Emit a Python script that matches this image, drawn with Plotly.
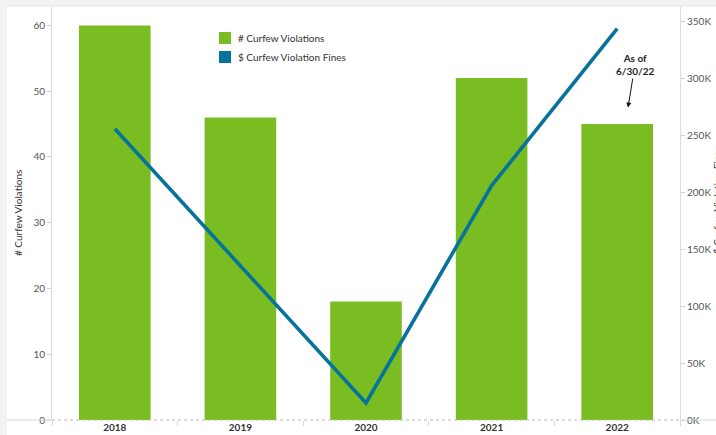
import plotly.graph_objects as go

# ---- data ----
years = ["2018", "2019", "2020", "2021", "2022"]
violations = [60, 46, 18, 52, 45]
fines = [256000, 135000, 15000, 206000, 344000]
series_names = ["# Curfew Violations", "$ Curfew Violation Fines"]
left_ticks = [0, 10, 20, 30, 40, 50, 60]
right_ticks = [0, 50000, 100000, 150000, 200000, 250000, 300000, 350000]
right_ticktext = ["0K", "50K", "100K", "150K", "200K", "250K", "300K", "350K"]
note_text = "As of<br>6/30/22"
title_text = "(by Year)"

# ---- styles ----
GREEN = "#79BD22"
BLUE = "#07739A"
FONT = "Lato"
W, H = 716, 435
L, R, T, B = 52, 36, 7, 15
PW, PH = W - L - R, H - T - B


def px(p):
    return (p - L) / PW


def py(p):
    return (H - B - p) / PH


fig = go.Figure()
fig.add_trace(go.Bar(x=years, y=violations, marker=dict(color=GREEN, line=dict(width=0)),
                     name=series_names[0], showlegend=False))
fig.add_trace(go.Scatter(x=years, y=fines, mode="lines", yaxis="y2",
                         line=dict(color=BLUE, width=3.6), name=series_names[1],
                         showlegend=False))

shapes = [
    # grey frame bands
    dict(type="rect", xref="paper", yref="paper", x0=px(0), x1=px(7), y0=py(H), y1=py(0),
         fillcolor="#f3f3f3", line=dict(width=0), layer="above"),
    dict(type="rect", xref="paper", yref="paper", x0=px(0), x1=px(W), y0=py(6), y1=py(0),
         fillcolor="#f3f3f3", line=dict(width=0), layer="above"),
    dict(type="line", xref="paper", yref="paper", x0=px(7), x1=px(W), y0=py(6), y1=py(6),
         line=dict(color="#e4e4e4", width=1), layer="above"),
    # baseline: solid outside panes, dotted inside
    dict(type="line", xref="paper", yref="paper", x0=px(7), x1=0, y0=0, y1=0,
         line=dict(color="#d6d6d6", width=1)),
    dict(type="line", xref="paper", yref="paper", x0=1, x1=px(W), y0=0, y1=0,
         line=dict(color="#d6d6d6", width=1)),
    dict(type="line", xref="paper", yref="paper", x0=0, x1=1, y0=0, y1=0,
         line=dict(color="#b8b8b8", width=1, dash="dot"), layer="above"),
    # legend swatches
    dict(type="rect", xref="paper", yref="paper", x0=px(219), x1=px(231), y0=py(44), y1=py(32),
         fillcolor=GREEN, line=dict(width=0)),
    dict(type="rect", xref="paper", yref="paper", x0=px(219), x1=px(231), y0=py(63), y1=py(51),
         fillcolor=BLUE, line=dict(width=0)),
]

annotations = [
    dict(xref="paper", yref="paper", x=px(236), y=py(38), text=series_names[0],
         showarrow=False, xanchor="left", yanchor="middle",
         font=dict(family=FONT, size=10, color="#333333")),
    dict(xref="paper", yref="paper", x=px(236), y=py(57), text=series_names[1],
         showarrow=False, xanchor="left", yanchor="middle",
         font=dict(family=FONT, size=10, color="#333333")),
    dict(xref="paper", yref="paper", x=px(18), y=py(213), text=series_names[0],
         textangle=-90, showarrow=False, xanchor="center", yanchor="middle",
         font=dict(family=FONT, size=10, color="#333333")),
    dict(xref="paper", yref="paper", x=px(717), y=py(200), text=series_names[1],
         textangle=-90, showarrow=False, xanchor="center", yanchor="middle",
         font=dict(family=FONT, size=10, color="#333333")),
    dict(xref="paper", yref="y", x=px(628), y=violations[-1] + 2.5,
         text="<b>" + note_text + "</b>",
         showarrow=True, arrowhead=2, arrowsize=1, arrowwidth=1, arrowcolor="#111",
         ax=7, ay=-43, standoff=0,
         font=dict(family=FONT, size=10, color="#222222"), align="center"),
    dict(xref="paper", yref="paper", x=px(286), y=py(-7), text="<b>" + title_text + "</b>",
         showarrow=False, xanchor="center", yanchor="middle",
         font=dict(family=FONT, size=12, color="#333333")),
]

fig.update_layout(
    template="none",
    width=W, height=H, autosize=False,
    margin=dict(l=L, r=R, t=T, b=B, pad=0, autoexpand=False),
    paper_bgcolor="white", plot_bgcolor="white",
    font=dict(family=FONT, size=10, color="#555"),
    bargap=0.43,
    showlegend=False,
    xaxis=dict(type="category", categoryorder="array", categoryarray=years,
               showgrid=False, zeroline=False, showline=False, automargin=False,
               ticks="outside", tickson="boundaries", ticklen=5, tickcolor="#d6d6d6",
               tickfont=dict(family=FONT, size=10, color="#333", weight="bold"),
               fixedrange=True),
    yaxis=dict(range=[0, 62.8], tickvals=left_ticks, showgrid=False, zeroline=False,
               showline=True, linecolor="#dcdcdc", linewidth=1, automargin=False,
               ticks="outside", ticklen=4, tickcolor="#cfcfcf",
               tickfont=dict(family=FONT, size=10, color="#555")),
    yaxis2=dict(range=[0, 363000], tickvals=right_ticks, ticktext=right_ticktext,
                overlaying="y", side="right", showgrid=False, zeroline=False,
                showline=True, linecolor="#dcdcdc", linewidth=1, automargin=False,
                ticks="outside", ticklen=4, tickcolor="#cfcfcf",
                tickfont=dict(family=FONT, size=10, color="#555")),
    shapes=shapes,
    annotations=annotations,
)

fig.write_html("out.html", config={"displayModeBar": False},
               post_script="document.body.style.margin='0';document.body.style.padding='0';"
                           "document.documentElement.style.overflow='hidden';")
